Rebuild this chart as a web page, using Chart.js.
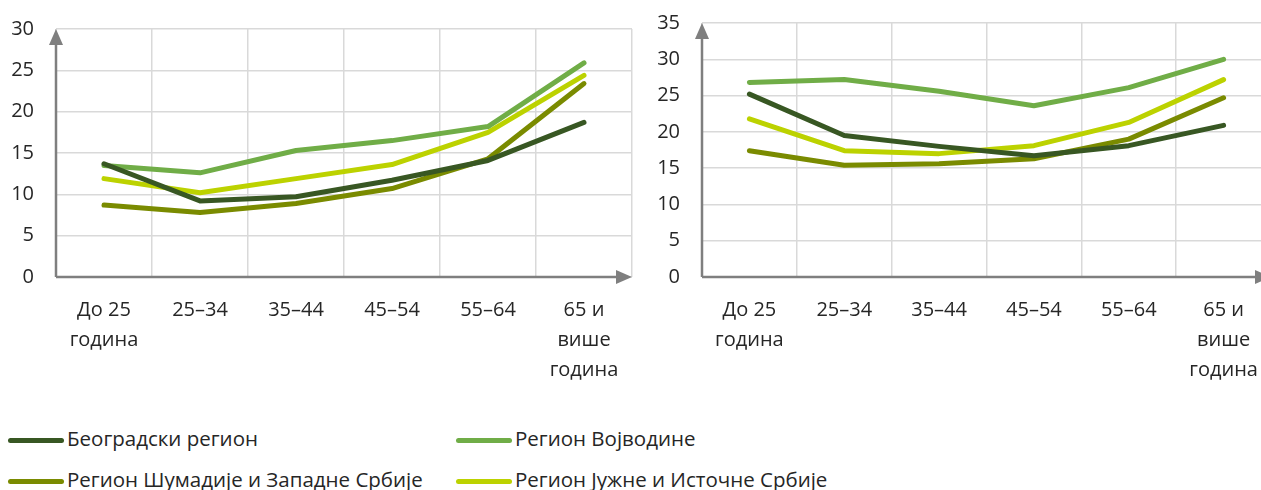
<!DOCTYPE html>
<html>
<head>
<meta charset="utf-8">
<script src="https://cdn.jsdelivr.net/npm/chart.js@4"></script>
<style>
  html, body { margin: 0; padding: 0; background: #fff; overflow: hidden; }
  body { width: 1261px; height: 490px; position: relative; font-family: "Open Sans", sans-serif; }
  .box { position: absolute; top: 0; height: 390px; }
  #leftBox { left: 0; width: 640px; }
  #rightBox { left: 640px; width: 639px; }
  .legend { position: absolute; font-size: 20.5px; line-height: 24px; color: #262626; white-space: nowrap; }
  .legend span.sw { display: inline-block; width: 56px; height: 5px; border-radius: 3px; vertical-align: middle; margin-right: 3px; }
</style>
</head>
<body>
<div class="box" id="leftBox"><canvas id="leftChart"></canvas></div>
<div class="box" id="rightBox"><canvas id="rightChart"></canvas></div>
<div id="legend"></div>
<script>
// categories
const ageGroups = [['До 25', 'година'], ['25–34'], ['35–44'], ['45–54'], ['55–64'], ['65 и', 'више', 'година']];
const seriesNames = ['Београдски регион', 'Регион Војводине', 'Регион Шумадије и Западне Србије', 'Регион Јужне и Источне Србије'];
const seriesColors = ['#385723', '#70ad47', '#7a8b00', '#bcd200'];

// left chart values
const leftBeograd = [13.7, 9.2, 9.7, 11.7, 14.1, 18.7];
const leftVojvodina = [13.5, 12.6, 15.3, 16.5, 18.2, 25.9];
const leftSumadija = [8.7, 7.8, 8.9, 10.7, 14.3, 23.4];
const leftJug = [11.9, 10.2, 11.9, 13.6, 17.5, 24.4];

// right chart values
const rightBeograd = [25.2, 19.5, 18.0, 16.7, 18.1, 20.9];
const rightVojvodina = [26.8, 27.2, 25.6, 23.6, 26.1, 30.0];
const rightSumadija = [17.4, 15.4, 15.6, 16.3, 19.0, 24.7];
const rightJug = [21.8, 17.4, 17.0, 18.1, 21.3, 27.2];

const leftMax = 30;
const rightMax = 35;

// arrows on the axes
const arrowAxes = {
    id: 'arrowAxes',
    afterDraw(chart) {
        const ctx = chart.ctx;
        const a = chart.chartArea;
        ctx.save();
        ctx.strokeStyle = '#7f7f7f';
        ctx.fillStyle = '#7f7f7f';
        ctx.lineWidth = 2.5;
        ctx.beginPath();
        ctx.moveTo(a.left, a.bottom);
        ctx.lineTo(a.left, a.top + 10);
        ctx.moveTo(a.left, a.bottom);
        ctx.lineTo(a.right - 10, a.bottom);
        ctx.stroke();
        // up arrow
        ctx.beginPath();
        ctx.moveTo(a.left, a.top);
        ctx.lineTo(a.left - 7, a.top + 16);
        ctx.lineTo(a.left + 7, a.top + 16);
        ctx.closePath();
        ctx.fill();
        // right arrow
        ctx.beginPath();
        ctx.moveTo(a.right, a.bottom);
        ctx.lineTo(a.right - 16, a.bottom - 7);
        ctx.lineTo(a.right - 16, a.bottom + 7);
        ctx.closePath();
        ctx.fill();
        ctx.restore();
    }
};

function makeChart(id, values, maxY, leftW, topPad) {
    const datasets = values.map((v, i) => ({
        label: seriesNames[i],
        data: v,
        borderColor: seriesColors[i],
        backgroundColor: seriesColors[i],
        borderWidth: 5,
        borderCapStyle: 'round',
        borderJoinStyle: 'round',
        pointRadius: 0,
        tension: 0
    }));
    return new Chart(document.getElementById(id), {
        type: 'line',
        data: { labels: ageGroups, datasets: datasets },
        options: {
            responsive: true,
            maintainAspectRatio: false,
            animation: false,
            layout: { padding: { top: topPad, right: 8, left: 0, bottom: 0 } },
            plugins: { legend: { display: false }, tooltip: { enabled: false } },
            scales: {
                x: {
                    offset: true,
                    grid: { offset: true, color: '#d9d9d9', lineWidth: 1.5, drawTicks: false },
                    border: { display: false },
                    ticks: {
                        color: '#262626',
                        padding: 18,
                        maxRotation: 0,
                        autoSkip: false,
                        font: { family: 'Open Sans', size: 20, lineHeight: 1.5 }
                    },
                    afterFit(scale) { scale.height = 113; }
                },
                y: {
                    min: 0,
                    max: maxY,
                    grid: { color: '#d9d9d9', lineWidth: 1.5, drawTicks: false },
                    border: { display: false },
                    ticks: {
                        stepSize: 5,
                        color: '#262626',
                        padding: 22,
                        font: { family: 'Open Sans', size: 20 }
                    },
                    afterFit(scale) {
                        scale.width = leftW;
                        scale.paddingTop = 0;
                        scale.paddingBottom = 0;
                    }
                }
            }
        },
        plugins: [arrowAxes]
    });
}

makeChart('leftChart', [leftBeograd, leftVojvodina, leftSumadija, leftJug], leftMax, 56, 29);
makeChart('rightChart', [rightBeograd, rightVojvodina, rightSumadija, rightJug], rightMax, 62, 23);

// legend
const legendPos = [[8, 438], [456, 438], [8, 479], [456, 479]];
const legendEl = document.getElementById('legend');
seriesNames.forEach((name, i) => {
    const d = document.createElement('div');
    d.className = 'legend';
    d.style.left = legendPos[i][0] + 'px';
    d.style.top = (legendPos[i][1] - 12) + 'px';
    d.innerHTML = '<span class="sw" style="background:' + seriesColors[i] + '"></span>' + name;
    legendEl.appendChild(d);
});
</script>
</body>
</html>
